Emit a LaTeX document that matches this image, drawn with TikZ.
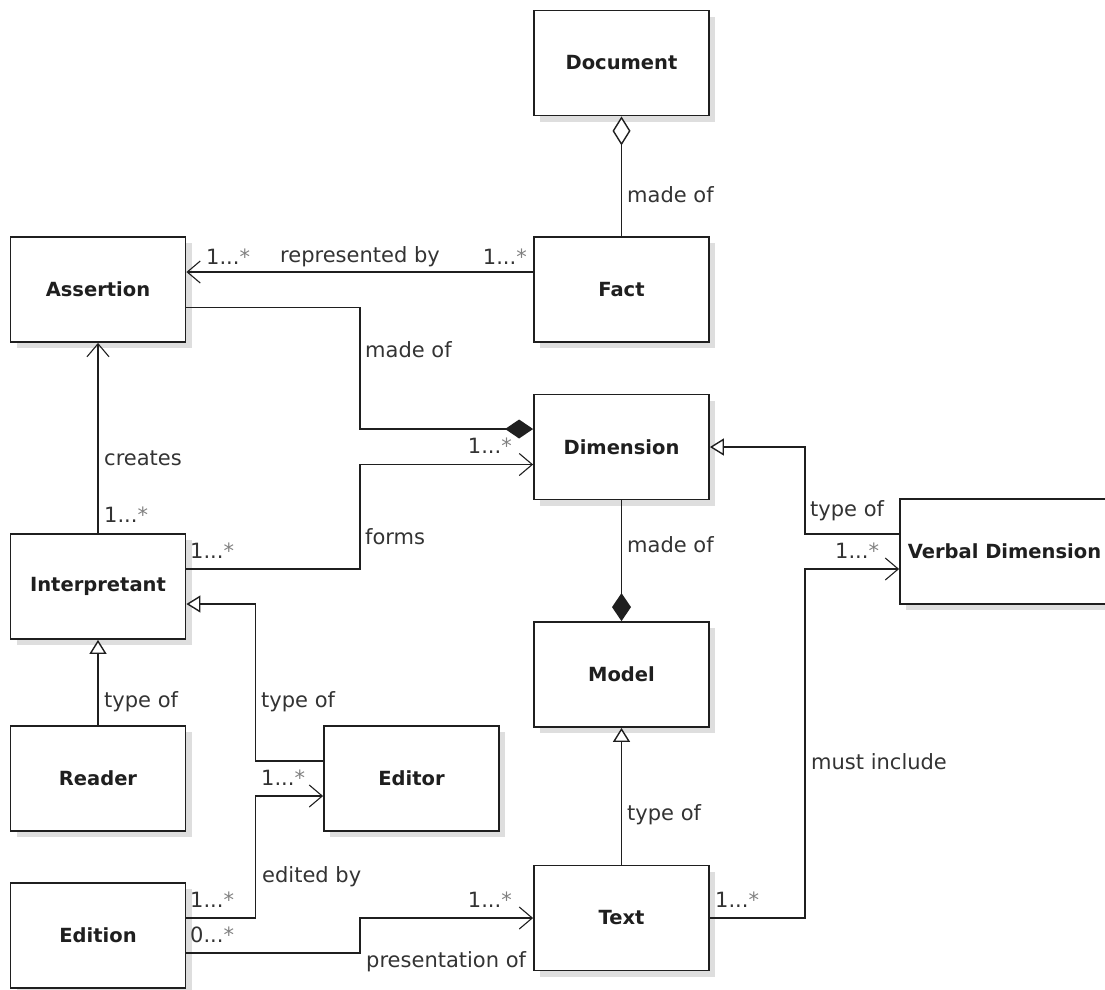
\documentclass[tikz,border=0pt]{standalone}
\usepackage{fontspec}
\setmainfont{DejaVu Sans}
\usetikzlibrary{arrows.meta,calc,shadows}
\newcommand{\mult}[1]{#1...\textcolor{black!50}{*}}
\begin{document}
\begin{tikzpicture}[x=1pt,y=-1pt,
  cls/.style={draw=black!88, line width=1.8pt, fill=white, minimum width=175pt, minimum height=105pt, inner sep=0pt,
    font=\fontsize{19.5}{23}\selectfont\bfseries, text=black!88,
    drop shadow={shadow xshift=6pt, shadow yshift=-6pt, fill=black!13, opacity=1}},
  lbl/.style={font=\fontsize{21}{25}\selectfont, text=black!80, inner sep=0pt, anchor=west},
  conn/.style={draw=black!88, line width=1.8pt},
  assoc/.style={conn, -{Straight Barb[length=13pt,width=22pt,line width=1.1pt]}},
  gen/.style={conn, -{Triangle[open,length=14pt,width=17pt,line width=1.4pt,fill=white]}},
  agg/.style={conn, {Diamond[open,length=29pt,width=18pt,line width=1.4pt,fill=white]}-},
  comp/.style={conn, -{Diamond[length=28pt,width=19pt]}},
]
\useasboundingbox (0,0) rectangle (1105,989);
\clip (0,0) rectangle (1105,989);

% classes
\node[cls] (doc)     at (621.5,63)    {Document};
\node[cls] (asr)     at (98,289.5)    {Assertion};
\node[cls] (fact)    at (621.5,289.5) {Fact};
\node[cls] (dim)     at (621.5,447)   {Dimension};
\node[cls, minimum width=209pt] (vd) at (1004.5,551.5) {Verbal Dimension};
\node[cls] (interp)  at (98,586.5)    {Interpretant};
\node[cls] (model)   at (621.5,674.5) {Model};
\node[cls] (reader)  at (98,778.5)    {Reader};
\node[cls] (editor)  at (411.5,778.5) {Editor};
\node[cls] (edition) at (98,935.5)    {Edition};
\node[cls] (text)    at (621.5,918)   {Text};

% routing columns
\coordinate (mx) at (360,0);
\coordinate (ex) at (255.5,0);
\coordinate (vx) at (805,0);

% Document - Fact (aggregation)
\draw[agg] (doc.south) -- (fact.north);
\node[lbl] at (627,195) {made of};

% Fact -> Assertion
\draw[assoc] ($(fact.west)+(0,-17.5)$) -- ($(asr.east)+(0,-17.5)$);
\node[lbl] at (206,257) {\mult{1}};
\node[lbl, anchor=center] at (360,257) {represented by};
\node[lbl, anchor=east] at (527,257) {\mult{1}};

% Assertion - Dimension (composition)
\path ($(asr.east)+(0,18)$) coordinate (a1) ($(dim.west)+(0,-18)$) coordinate (a2);
\draw[comp] (a1) -- (a1 -| mx) |- (a2);
\node[lbl] at (365,350) {made of};

% Interpretant -> Dimension (forms)
\path ($(interp.east)+(0,-17.5)$) coordinate (f1) ($(dim.west)+(0,17.5)$) coordinate (f2);
\draw[assoc] (f1) -- (f1 -| mx) |- (f2);
\node[lbl, anchor=east] at (512,446) {\mult{1}};
\node[lbl] at (365,537) {forms};
\node[lbl] at (190,551) {\mult{1}};

% Interpretant -> Assertion (creates)
\draw[assoc] (interp.north) -- (asr.south);
\node[lbl] at (104,458) {creates};
\node[lbl] at (104,515) {\mult{1}};

% Reader -> Interpretant
\draw[gen] (reader.north) -- (interp.south);
\node[lbl] at (104,702) {type of};

% Editor -> Interpretant
\path ($(editor.west)+(0,-17.5)$) coordinate (e1) ($(interp.east)+(0,17.5)$) coordinate (e2);
\draw[gen] (e1) -- (e1 -| ex) |- (e2);
\node[lbl] at (261,702) {type of};

% Edition -> Editor (edited by)
\path ($(edition.east)+(0,-17.5)$) coordinate (d1) ($(editor.west)+(0,17.5)$) coordinate (d2);
\draw[assoc] (d1) -- (d1 -| ex) |- (d2);
\node[lbl] at (261,778) {\mult{1}};
\node[lbl] at (262,877) {edited by};
\node[lbl] at (190,900) {\mult{1}};

% Edition -> Text (presentation of)
\path ($(edition.east)+(0,17.5)$) coordinate (p1);
\draw[assoc] (p1) -- (p1 -| mx) |- (text.west);
\node[lbl] at (190,935) {\mult{0}};
\node[lbl, anchor=east] at (512,900) {\mult{1}};
\node[lbl] at (366,962) {presentation of};

% Dimension - Model (composition)
\draw[comp] (dim.south) -- (model.north);
\node[lbl] at (627,545) {made of};

% Text -> Model
\draw[gen] (text.north) -- (model.south);
\node[lbl] at (627,815) {type of};

% Text -> Verbal Dimension (must include)
\path ($(vd.west)+(0,17.5)$) coordinate (m2);
\draw[assoc] (text.east) -- (text.east -| vx) |- (m2);
\node[lbl] at (715,900) {\mult{1}};
\node[lbl] at (811,762) {must include};
\node[lbl] at (835,551) {\mult{1}};

% Verbal Dimension -> Dimension
\path ($(vd.west)+(0,-17.5)$) coordinate (v1);
\draw[gen] (v1) -- (v1 -| vx) |- (dim.east);
\node[lbl] at (810,511) {type of};
\end{tikzpicture}
\end{document}
